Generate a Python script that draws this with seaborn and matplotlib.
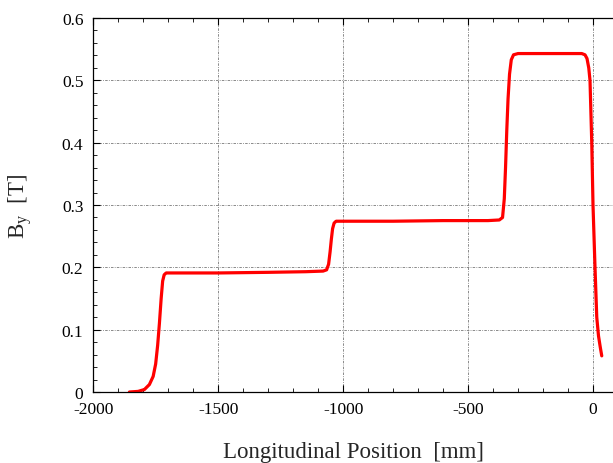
import numpy as np
import pandas as pd
import matplotlib
matplotlib.use("Agg")
import matplotlib.pyplot as plt
import seaborn as sns
from matplotlib.ticker import MultipleLocator, FuncFormatter

# field profile
pos_mm = [-1855, -1820, -1795, -1775, -1760, -1750, -1742, -1735, -1728, -1722, -1716, -1708,
          -1690, -1500, -1300, -1150, -1080, -1066, -1058, -1052, -1047, -1042, -1036, -1028,
          -1010, -800, -600, -420, -375, -362, -355, -350, -345, -340, -334, -327, -318,
          -300, -150, -45, -32, -24, -17, -12, -5, 0, 8, 15, 22, 29, 35]
by_T = [0.0, 0.001, 0.004, 0.012, 0.025, 0.045, 0.075, 0.11, 0.15, 0.178, 0.188, 0.191,
        0.191, 0.191, 0.192, 0.193, 0.194, 0.196, 0.205, 0.225, 0.245, 0.262, 0.271, 0.274,
        0.274, 0.274, 0.275, 0.275, 0.276, 0.28, 0.31, 0.36, 0.42, 0.47, 0.51, 0.533, 0.541,
        0.543, 0.543, 0.543, 0.541, 0.535, 0.52, 0.5, 0.4, 0.3, 0.2, 0.12, 0.09, 0.072, 0.058]

x_ticks = [-2000, -1500, -1000, -500, 0]
y_ticks = [0, 0.1, 0.2, 0.3, 0.4, 0.5, 0.6]

df = pd.DataFrame({"pos": pos_mm, "By": by_T})

sns.set_style("ticks")
plt.rcParams["font.family"] = ["Liberation Serif", "DejaVu Serif"]
plt.rcParams["axes.unicode_minus"] = False
plt.rcParams["mathtext.fontset"] = "custom"
plt.rcParams["mathtext.rm"] = "Liberation Serif"

fig = plt.figure(figsize=(6.13, 4.64), dpi=100)
ax = fig.add_axes([0.152, 0.153, 0.848, 0.806])

sns.lineplot(data=df, x="pos", y="By", ax=ax, sort=False, color="#ff0000", lw=2.3)

ax.set_xlim(-2000, 80)
ax.set_ylim(0, 0.6)
ax.set_xticks(x_ticks)
ax.set_yticks(y_ticks)
ax.xaxis.set_minor_locator(MultipleLocator(100))
ax.yaxis.set_minor_locator(MultipleLocator(0.02))
ax.yaxis.set_major_formatter(FuncFormatter(lambda v, p: "0" if v == 0 else f"{v:.1f}"))
ax.xaxis.set_major_formatter(FuncFormatter(lambda v, p: f"{int(v)}"))

ax.tick_params(which="both", direction="in", top=True, right=False, labelsize=12.5, colors="black")
ax.tick_params(which="major", length=5, width=0.8)
ax.tick_params(which="minor", length=3, width=0.6)
ax.tick_params(axis="x", pad=6.5)
ax.tick_params(axis="y", pad=7)

ax.grid(True, which="major", color="#777777", linestyle=(0, (3, 1.5, 1, 1.5)), lw=0.6)
ax.spines["right"].set_visible(False)
for s in ["left", "bottom", "top"]:
    ax.spines[s].set_color("black")
    ax.spines[s].set_linewidth(0.9)

ax.set_xlabel("Longitudinal Position  [mm]", fontsize=16.5, labelpad=17)
ax.set_ylabel(r"B$_{\mathrm{y}}$  [T]", fontsize=16.5, labelpad=19)

fig.savefig("out.png", dpi=100)
